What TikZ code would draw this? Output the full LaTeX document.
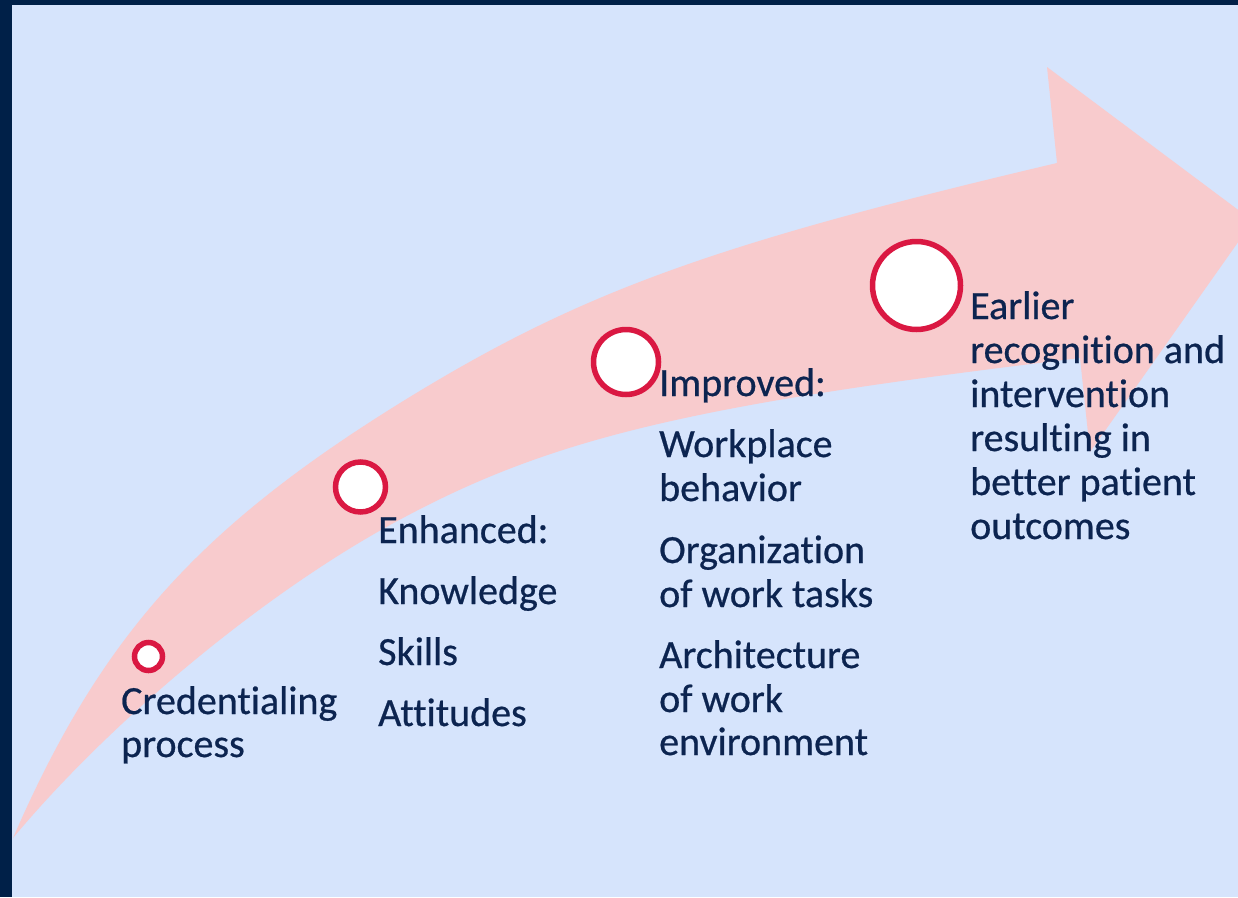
\documentclass[tikz,border=0pt]{standalone}
\usepackage{fontspec}
\setmainfont{Carlito}[Ligatures=NoCommon, FakeBold=0.6]
\definecolor{navy}{HTML}{002048}
\definecolor{bgblue}{HTML}{D6E4FC}
\definecolor{ribbon}{HTML}{F8CBCD}
\definecolor{crimson}{HTML}{DA1842}
\definecolor{ink}{HTML}{0C2450}
\tikzset{
  dot/.style={circle, draw=crimson, line width=5.5pt, fill=white, inner sep=0pt},
  lbl/.style={anchor=base west, inner sep=0pt, text=ink, font=\fontsize{40}{44}\selectfont}
}
\begin{document}
\begin{tikzpicture}[x=1pt,y=-1pt]
\useasboundingbox (0,0) rectangle (1238,897);
\fill[navy] (0,0) rectangle (1238,897);
\fill[bgblue] (12,5) rectangle (1238,897);
\begin{scope}
\clip (12,5) rectangle (1238,897);
\fill[ribbon] (13,838) .. controls (100,638) and (197,529) .. (400,403)
  .. controls (578,293) and (709,245) .. (1057,163)
  -- (1047,67) -- (1253,221) -- (1090,452) -- (1080,358)
  .. controls (684.3,405.5) and (546.6,438.9) .. (390,525)
  .. controls (261,596) and (110.5,721) .. (13,838) -- cycle;
\end{scope}
\node[dot, minimum size=28pt] (c1) at (148.5,656.5) {};
\node[dot, minimum size=50pt] (c2) at (360.5,487) {};
\node[dot, minimum size=65pt] (c3) at (626,362) {};
\node[dot, minimum size=88pt] (c4) at (916.5,285.5) {};
% column 1
\node[lbl] (a1) at (121,714) {Credentialing};
\node[lbl] (a2) at (121,757) {process};
% column 2
\node[lbl] (b1) at (378,543) {Enhanced:};
\node[lbl] (b2) at (378,604) {Knowledge};
\node[lbl] (b3) at (378,665) {Skills};
\node[lbl] (b4) at (378,726) {Attitudes};
% column 3
\node[lbl] (d1) at (659,396) {Improved:};
\node[lbl] (d2) at (659,457) {Workplace};
\node[lbl] (d3) at (659,501) {behavior};
\node[lbl] (d4) at (659,563) {Organization};
\node[lbl] (d5) at (659,607) {of work tasks};
\node[lbl] (d6) at (659,668) {Architecture};
\node[lbl] (d7) at (659,712) {of work};
\node[lbl] (d8) at (659,755) {environment};
% column 4
\node[lbl] (e1) at (970,319) {Earlier};
\node[lbl] (e2) at (970,363) {recognition and};
\node[lbl] (e3) at (970,407) {intervention};
\node[lbl] (e4) at (970,451) {resulting in};
\node[lbl] (e5) at (970,495) {better patient};
\node[lbl] (e6) at (970,539) {outcomes};
\end{tikzpicture}
\end{document}
